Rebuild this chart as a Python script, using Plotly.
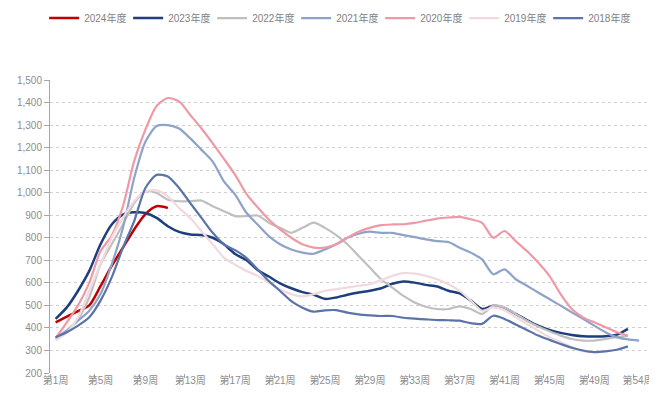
import plotly.graph_objects as go

weeks_all = list(range(1, 55))
tick_weeks = [1, 5, 9, 13, 17, 21, 25, 29, 33, 37, 41, 45, 49, 54]
tick_text = ["第%d周" % w for w in tick_weeks]
tick_bounds = [0.5, 4.5, 8.5, 12.5, 16.5, 20.5, 24.5, 28.5, 32.5, 36.5, 40.5, 44.5, 48.5, 52.5, 54.5]

y2024 = [425, 450, 474, 500, 585, 675, 756, 837, 905, 940, 932]
y2023 = [440, 491, 565, 653, 771, 859, 903, 913, 910, 888, 851, 826, 815, 812, 800, 771, 728,
         701, 657, 628, 598, 576, 559, 547, 529, 535, 547, 557, 565, 576, 596, 606, 601, 591,
         584, 565, 553, 521, 484, 498, 488, 462, 435, 410, 391, 378, 369, 363, 362, 363, 370, 396]
y2022 = [350, 388, 440, 535, 682, 771, 859, 954, 1006, 999, 969, 962, 962, 965, 940, 918, 896,
         896, 899, 867, 844, 822, 844, 867, 844, 812, 771, 719, 668, 616, 579, 542, 513, 494,
         484, 484, 496, 484, 462, 499, 491, 462, 432, 406, 385, 366, 351, 344, 344, 351, 359, 365]
y2021 = [359, 388, 432, 476, 550, 682, 844, 1065, 1226, 1296, 1300, 1285, 1241, 1190, 1138, 1050, 991,
         911, 859, 807, 771, 748, 734, 729, 748, 771, 800, 818, 827, 822, 822, 812, 803, 793,
         785, 781, 756, 734, 704, 638, 660, 616, 587, 557, 528, 499, 469, 440, 410, 381, 359, 349, 344]
y2020 = [355, 425, 500, 600, 740, 810, 940, 1140, 1280, 1385, 1420, 1405, 1345, 1285, 1219, 1150, 1079,
         995, 935, 881, 837, 800, 771, 756, 756, 771, 800, 827, 844, 856, 859, 860, 866, 876,
         885, 890, 893, 882, 866, 800, 830, 785, 741, 690, 631, 550, 484, 447, 425, 403, 381, 366]
y2019 = [344, 380, 447, 565, 682, 800, 888, 962, 1006, 1010, 984, 932, 888, 829, 771, 712, 680,
         653, 631, 601, 572, 550, 540, 550, 565, 572, 579, 587, 594, 612, 631, 643, 641, 631,
         616, 594, 565, 521, 476, 491, 479, 447, 418, 388, 359, 337, 315, 297, 293, 300]
y2018 = [359, 381, 410, 447, 521, 624, 756, 874, 1021, 1079, 1072, 1021, 954, 888, 822, 771, 745,
         711, 660, 608, 564, 519, 490, 472, 478, 479, 468, 460, 456, 453, 453, 445, 441, 438,
         435, 434, 432, 421, 418, 454, 440, 415, 391, 366, 347, 329, 312, 300, 293, 296, 303, 318]

series = [
    ("2024年度", y2024, "#C00000", 2.5),
    ("2023年度", y2023, "#1F3E7C", 2.5),
    ("2022年度", y2022, "#BFBFBF", 2.2),
    ("2021年度", y2021, "#8EA3C8", 2.2),
    ("2020年度", y2020, "#EE9AA6", 2.2),
    ("2019年度", y2019, "#F2D9DD", 2.2),
    ("2018年度", y2018, "#5A73A8", 2.2),
]

fig = go.Figure()
for name, ys, color, width in series:
    fig.add_trace(go.Scatter(
        x=weeks_all[:len(ys)], y=ys, name=name, mode="lines",
        line=dict(color=color, width=width, shape="spline", smoothing=0.7),
    ))

font_family = "Liberation Sans Narrow, Liberation Sans, Noto Sans CJK SC, sans-serif"

label_pos = tick_weeks[:-1] + [52.9]

fig.update_layout(
    width=657, height=401,
    margin=dict(l=36, r=9, t=72, b=36),
    paper_bgcolor="white", plot_bgcolor="white",
    font=dict(family=font_family, size=11, color="#7F7F7F"),
    showlegend=True,
    legend=dict(orientation="h", xref="container", x=0.055, xanchor="left",
                yref="container", y=0.975, yanchor="middle",
                font=dict(size=10, color="#7F7F7F"),
                itemwidth=30, entrywidth=39, entrywidthmode="pixels",
                tracegroupgap=0, traceorder="normal", bgcolor="rgba(0,0,0,0)"),
    xaxis=dict(range=[0.5, 54.5], tickmode="array", tickvals=label_pos,
               ticktext=tick_text,
               ticks="", showgrid=False, zeroline=False, showline=False,
               ticklabeloverflow="allow",
               tickfont=dict(size=10, color="#8C8C8C"),
               minor=dict(tickmode="array", tickvals=tick_bounds, ticks="outside",
                          ticklen=4, tickcolor="#A6A6A6", tickwidth=1, showgrid=False)),
    yaxis=dict(range=[200, 1500], tickmode="linear", tick0=200, dtick=100, tickformat=",",
               showgrid=True, gridcolor="#D0D0D0", griddash="dot", gridwidth=1,
               showline=True, linecolor="#A6A6A6", linewidth=1,
               ticks="outside", ticklen=5, tickcolor="#A6A6A6",
               zeroline=False, tickfont=dict(size=10, color="#8C8C8C")),
)

fig.add_shape(type="line", xref="paper", yref="paper", x0=1, x1=1, y0=0, y1=1,
              line=dict(color="#C8C8C8", width=2))

fig.write_html("out.html")
